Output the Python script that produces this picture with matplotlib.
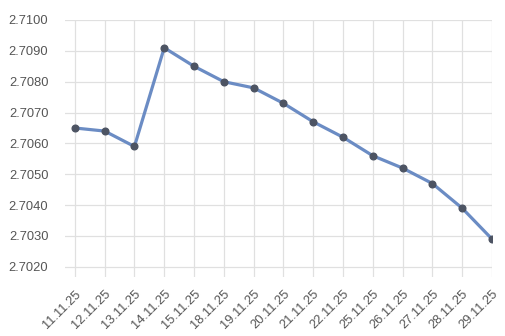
import matplotlib.pyplot as plt

# data
dates = ['11.11.25', '12.11.25', '13.11.25', '14.11.25', '15.11.25', '18.11.25',
         '19.11.25', '20.11.25', '21.11.25', '22.11.25', '25.11.25', '26.11.25',
         '27.11.25', '28.11.25', '29.11.25']
rates = [2.7065, 2.7064, 2.7059, 2.7091, 2.7085, 2.7080, 2.7078, 2.7073,
         2.7067, 2.7062, 2.7056, 2.7052, 2.7047, 2.7039, 2.7029]
yticks = [2.7020, 2.7030, 2.7040, 2.7050, 2.7060, 2.7070, 2.7080, 2.7090, 2.7100]

plt.rcParams['font.family'] = ['Liberation Sans', 'DejaVu Sans']

fig = plt.figure(figsize=(5.05, 3.36), dpi=100)
ax = fig.add_axes([65 / 505, 1 - 277 / 336, (492 - 65) / 505, (277 - 20) / 336])

x = list(range(len(dates)))
ax.plot(x, rates, color='#6b8cc4', linewidth=2.3, zorder=3)
ax.plot(x, rates, linestyle='none', marker='o', markersize=4.8,
        markerfacecolor='#4d5463', markeredgecolor='#4d5463', zorder=4)

ax.set_xlim(-0.33, len(dates) - 1)
ymin = yticks[0] - 0.00033
ax.set_ylim(ymin, yticks[-1])

ax.set_xticks(x)
ax.set_xticklabels(dates, rotation=45, ha='right', rotation_mode='anchor')
ax.set_yticks(yticks)
ax.set_yticklabels(['%.4f' % v for v in yticks])

# grid
for v in yticks:
    ax.axhline(v, color='#e0e0e0', linewidth=0.9, zorder=1)
for xi in x:
    ax.axvline(xi, color='#e0e0e0', linewidth=0.9, zorder=1)

for s in ax.spines.values():
    s.set_visible(False)
ax.tick_params(axis='both', length=0, labelsize=9.3, labelcolor='#555555')
ax.tick_params(axis='y', pad=12)
ax.tick_params(axis='x', pad=8)

fig.savefig('out.png', dpi=100)
